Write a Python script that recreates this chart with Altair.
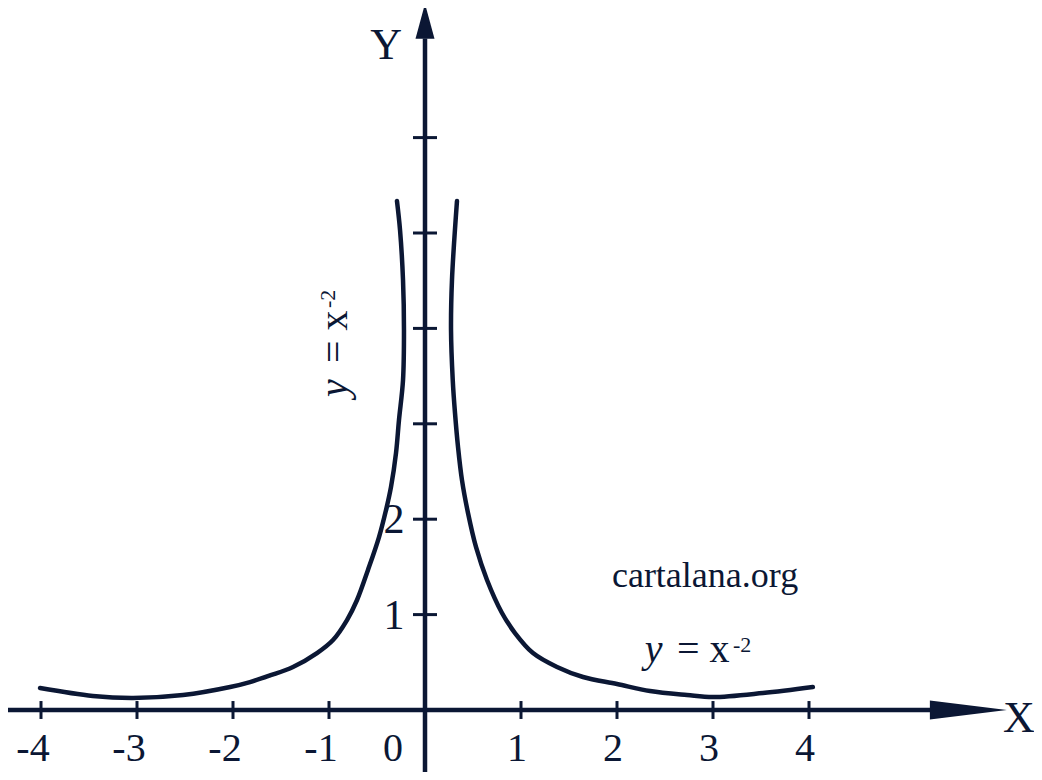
import altair as alt
import pandas as pd

INK = "#0b1734"
FONT = "Liberation Serif"

# ---- curve (two branches) ----
right_x = [0.333, 0.281, 0.271, 0.289, 0.3125, 0.344, 0.385, 0.448, 0.531, 0.646,
           0.802, 0.9375, 1.125, 1.375, 1.646, 2.0, 2.344, 2.729, 3.0, 3.52, 4.04]
right_y = [5.335, 4.507, 3.983, 3.459, 3.113, 2.757, 2.411, 2.065, 1.709, 1.363,
           1.017, 0.807, 0.597, 0.451, 0.346, 0.2725, 0.199, 0.157, 0.136, 0.178, 0.241]
left_x = [-0.292, -0.26, -0.229, -0.219, -0.229, -0.271, -0.302, -0.354, -0.406, -0.479,
          -0.594, -0.708, -0.8125, -0.958, -1.125, -1.375, -1.615, -1.823, -2.03, -2.52,
          -3.04, -3.46, -4.01]
left_y = [5.335, 5.03, 4.507, 3.983, 3.459, 3.04, 2.694, 2.338, 2.096, 1.813,
          1.468, 1.153, 0.943, 0.734, 0.597, 0.451, 0.362, 0.293, 0.241, 0.157,
          0.126, 0.147, 0.23]

# ---- axes ----
x_domain = [-4.34375, 6.34375]
y_domain = [-0.6499, 7.3585]
x_axis_end = 5.3
y_axis_end = 7.04
x_arrow_at = 5.66
y_arrow_at = 7.22
x_ticks = [-4, -3, -2, -1, 1, 2, 3, 4]
x_tick_labels_neg = ["-4", "-3", "-2", "-1"]
x_tick_labels_pos = ["1", "2", "3", "4"]
y_ticks = [1, 2, 3, 4, 5, 6]
y_label_vals = [1, 2]
y_label_text = ["1", "2"]

xs = alt.Scale(domain=x_domain, nice=False, zero=False)
ys = alt.Scale(domain=y_domain, nice=False, zero=False)


def X(f="x"):
    return alt.X(f"{f}:Q", scale=xs, axis=None)


def Y(f="y"):
    return alt.Y(f"{f}:Q", scale=ys, axis=None)


# axis lines
axis_df = pd.DataFrame({"x": [x_domain[0], 0], "x2": [x_axis_end, 0],
                        "y": [0, y_domain[0]], "y2": [0, y_axis_end]})
axis_lines = alt.Chart(axis_df).mark_rule(color=INK, strokeWidth=4.5).encode(
    x=X(), x2="x2:Q", y=Y(), y2="y2:Q")

# arrows
arrow_x = alt.Chart(pd.DataFrame({"x": [x_arrow_at], "y": [0]})).mark_point(
    shape="M-1,-0.247L1,0L-1,0.247Z", size=5929, filled=True, fill=INK,
    strokeWidth=0, opacity=1).encode(x=X(), y=Y())
arrow_y = alt.Chart(pd.DataFrame({"x": [0], "y": [y_arrow_at]})).mark_point(
    shape="M-0.543,1L0,-1L0.543,1Z", size=1225, filled=True, fill=INK,
    strokeWidth=0, opacity=1).encode(x=X(), y=Y())

# ticks
xt_df = pd.DataFrame({"x": x_ticks, "y": [-0.094] * len(x_ticks), "y2": [0.094] * len(x_ticks)})
xt = alt.Chart(xt_df).mark_rule(color=INK, strokeWidth=3).encode(x=X(), y=Y(), y2="y2:Q")
yt_df = pd.DataFrame({"y": y_ticks, "x": [-0.125] * len(y_ticks), "x2": [0.125] * len(y_ticks)})
yt = alt.Chart(yt_df).mark_rule(color=INK, strokeWidth=3).encode(x=X(), x2="x2:Q", y=Y())

# curve
curve_df = pd.concat([
    pd.DataFrame({"x": left_x, "y": left_y, "branch": "L", "i": range(len(left_x))}),
    pd.DataFrame({"x": right_x, "y": right_y, "branch": "R", "i": range(len(right_x))}),
])
curve = alt.Chart(curve_df).mark_line(
    color=INK, strokeWidth=4.5, strokeCap="round", strokeJoin="round",
    interpolate="catmull-rom").encode(x=X(), y=Y(), detail="branch:N", order="i:Q")


def text(df, **kw):
    return alt.Chart(df).mark_text(font=FONT, color=INK, **kw).encode(
        x=X(), y=Y(), text="t:N")


label_y = -0.5346
xl_neg = text(pd.DataFrame({"x": x_ticks[:4], "y": [label_y] * 4, "t": x_tick_labels_neg}),
              fontSize=40, align="center", baseline="alphabetic", dx=-8)
xl_pos = text(pd.DataFrame({"x": x_ticks[4:], "y": [label_y] * 4, "t": x_tick_labels_pos}),
              fontSize=40, align="center", baseline="alphabetic", dx=-4)
xl_zero = text(pd.DataFrame({"x": [0], "y": [label_y], "t": ["0"]}),
               fontSize=40, align="center", baseline="alphabetic", dx=-32)
yl = text(pd.DataFrame({"x": [0] * 2, "y": y_label_vals, "t": y_label_text}),
          fontSize=42, align="center", baseline="alphabetic", dx=-31, dy=14)

ax_names = text(pd.DataFrame({"x": [-0.406, 6.1875], "y": [6.824, -0.2306], "t": ["Y", "X"]}),
                fontSize=44, align="center", baseline="alphabetic")

site = text(pd.DataFrame({"x": [2.917], "y": [1.289], "t": ["cartalana.org"]}),
            fontSize=36, align="center", baseline="alphabetic")

# formula, horizontal
f_y = text(pd.DataFrame({"x": [2.29], "y": [0.503], "t": ["y"]}),
           fontSize=40, fontStyle="italic", align="left", baseline="alphabetic")
f_eq = text(pd.DataFrame({"x": [2.625], "y": [0.503], "t": ["= x"]}),
            fontSize=40, align="left", baseline="alphabetic")
f_sup = text(pd.DataFrame({"x": [3.208], "y": [0.608], "t": ["-2"]}),
             fontSize=22, align="left", baseline="alphabetic")

# formula, rotated
r_y = text(pd.DataFrame({"x": [-0.8125], "y": [3.281], "t": ["y"]}),
           fontSize=40, fontStyle="italic", align="left", baseline="alphabetic", angle=270)
r_eq = text(pd.DataFrame({"x": [-0.8125], "y": [3.637], "t": ["= x"]}),
            fontSize=40, align="left", baseline="alphabetic", angle=270)
r_sup = text(pd.DataFrame({"x": [-0.9375], "y": [4.214], "t": ["-2"]}),
             fontSize=22, align="left", baseline="alphabetic", angle=270)

chart = alt.layer(
    axis_lines, arrow_x, arrow_y, xt, yt, curve,
    xl_neg, xl_pos, xl_zero, yl, ax_names, site,
    f_y, f_eq, f_sup, r_y, r_eq, r_sup,
).properties(
    width=1026, height=764,
    autosize=alt.AutoSizeParams(type="none"),
    padding=0, background="white",
).configure_view(stroke=None)

chart.save("out.html", embed_options={"renderer": "svg", "actions": False})
